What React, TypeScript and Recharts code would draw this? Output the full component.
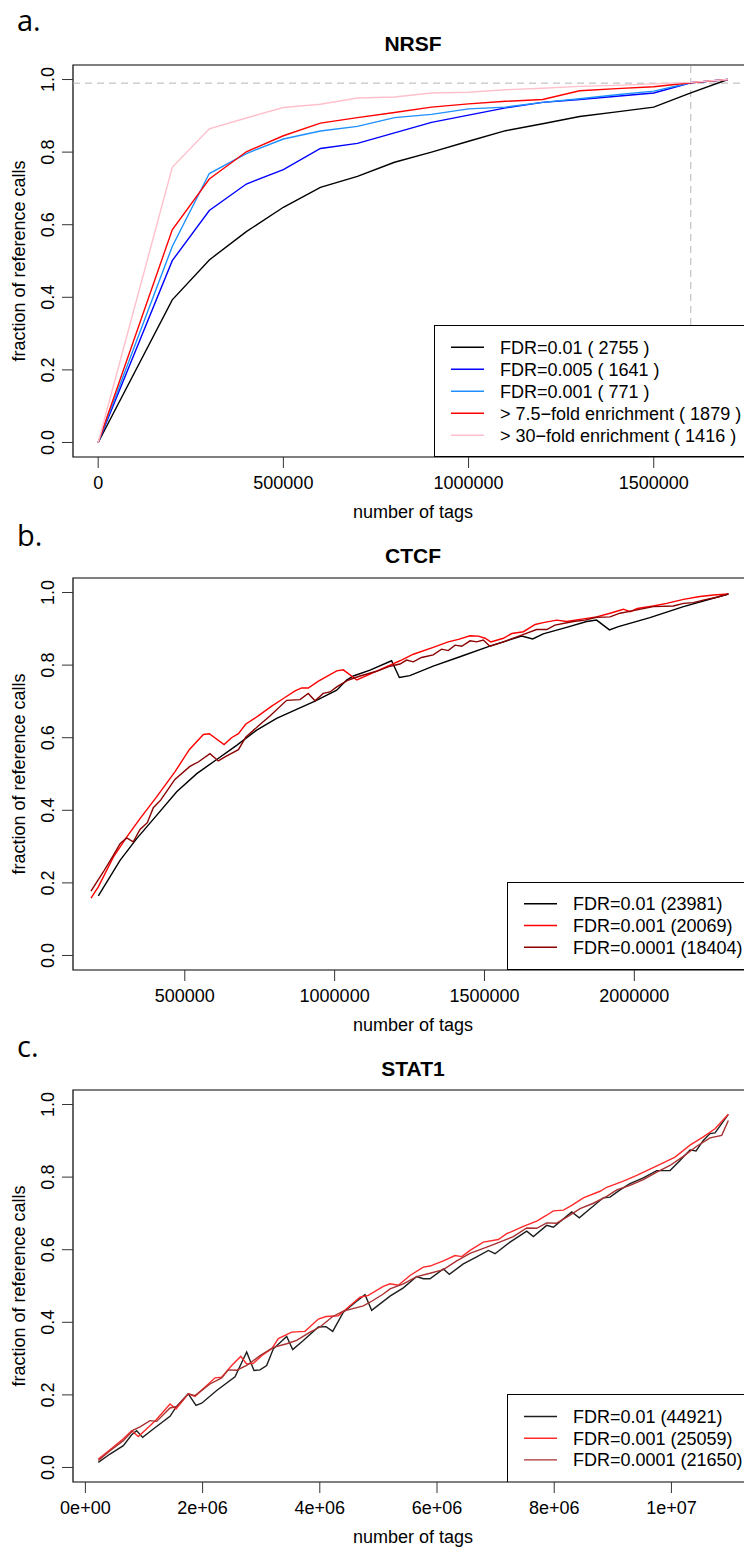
import React from 'react';
import { LineChart, Line, XAxis, YAxis, ReferenceLine, ReferenceArea, Legend } from 'recharts';

const SANS = '"Liberation Sans", Arial, Helvetica, sans-serif';
const LETTER_FONT = '"Open Sans", "Noto Sans", sans-serif';

// ---------- shared axis values ----------
const yTicks = [0, 0.2, 0.4, 0.6, 0.8, 1.0];
const yDomain: [number, number] = [-0.04, 1.04];

// ---------- panel a: NRSF ----------
const nrsfTags = [0, 200000, 300000, 400000, 500000, 600000, 700000, 800000, 900000, 1000000, 1100000, 1200000, 1300000, 1400000, 1500000, 1600000, 1700000];
const nrsfFdr01 = [0, 0.393, 0.503, 0.581, 0.648, 0.703, 0.733, 0.772, 0.800, 0.830, 0.859, 0.878, 0.898, 0.911, 0.924, 0.963, 1.0];
const nrsfFdr005 = [0, 0.501, 0.639, 0.712, 0.752, 0.810, 0.824, 0.853, 0.882, 0.902, 0.922, 0.937, 0.945, 0.954, 0.963, 0.991, 1.0];
const nrsfFdr001 = [0, 0.540, 0.741, 0.796, 0.836, 0.858, 0.871, 0.895, 0.904, 0.919, 0.924, 0.937, 0.947, 0.958, 0.968, 0.991, 1.0];
const nrsfFold75 = [0, 0.586, 0.726, 0.801, 0.845, 0.880, 0.895, 0.909, 0.924, 0.933, 0.940, 0.945, 0.969, 0.975, 0.980, 0.991, 1.0];
const nrsfFold30 = [0, 0.758, 0.864, 0.894, 0.923, 0.932, 0.949, 0.952, 0.963, 0.965, 0.972, 0.976, 0.981, 0.984, 0.988, 0.992, 1.0];
const nrsfXTicks = [0, 500000, 1000000, 1500000];
const nrsfXTickLabels = ['0', '500000', '1000000', '1500000'];
const nrsfXDomain: [number, number] = [-68000, 1768000];
const nrsfSaturationTags = 1600000;
const nrsfSaturationFraction = 0.99;

// ---------- panel b: CTCF ----------
const ctcfFdr01Tags = [211500, 284000, 339500, 406000, 473000, 540000, 606500, 673000, 740000, 806500, 873000, 934500, 1007000, 1040000, 1062500, 1118000, 1190000, 1216000, 1251000, 1329000, 1418000, 1513000, 1574000, 1624000, 1661000, 1696000, 1774000, 1841000, 1874000, 1917000, 1947000, 2052000, 2164000, 2314000];
const ctcfFdr01 = [0.164, 0.262, 0.322, 0.386, 0.451, 0.501, 0.540, 0.579, 0.621, 0.653, 0.678, 0.701, 0.731, 0.759, 0.770, 0.786, 0.812, 0.766, 0.771, 0.797, 0.823, 0.851, 0.867, 0.880, 0.872, 0.886, 0.904, 0.920, 0.924, 0.897, 0.906, 0.931, 0.961, 0.996];

const ctcfFdr001Tags = [187000, 211500, 261600, 306000, 350600, 406000, 467000, 515000, 562000, 582000, 631000, 656000, 679000, 703000, 745000, 790000, 829000, 868000, 890000, 912000, 946000, 1007000, 1029000, 1074000, 1118000, 1185000, 1218000, 1262600, 1329000, 1379000, 1413000, 1452000, 1479500, 1502000, 1521000, 1563000, 1591000, 1630000, 1669000, 1696000, 1741000, 1774000, 1819000, 1874000, 1919000, 1963500, 1986000, 2010000, 2063000, 2108000, 2164000, 2219000, 2264000, 2314000];
const ctcfFdr001 = [0.158, 0.189, 0.271, 0.326, 0.377, 0.437, 0.506, 0.567, 0.609, 0.611, 0.581, 0.600, 0.611, 0.637, 0.660, 0.687, 0.708, 0.729, 0.737, 0.737, 0.756, 0.784, 0.787, 0.759, 0.775, 0.800, 0.812, 0.830, 0.849, 0.864, 0.871, 0.881, 0.880, 0.874, 0.864, 0.874, 0.887, 0.892, 0.912, 0.917, 0.924, 0.920, 0.926, 0.933, 0.943, 0.954, 0.947, 0.956, 0.963, 0.970, 0.981, 0.989, 0.993, 0.996];

const ctcfFdr0001Tags = [187000, 228000, 261600, 284000, 306000, 328000, 350600, 375000, 395000, 419500, 467000, 517000, 545000, 584000, 612000, 634000, 679000, 704000, 745000, 784000, 840000, 884500, 912000, 934500, 962000, 984500, 1007000, 1046000, 1085000, 1140000, 1185000, 1218000, 1240000, 1262600, 1290000, 1329000, 1357000, 1379000, 1402000, 1424000, 1452000, 1474000, 1496000, 1518000, 1563000, 1585000, 1635000, 1674000, 1708000, 1735000, 1796500, 1835000, 1874000, 1919000, 1952000, 1997000, 2063000, 2130000, 2164000, 2197000, 2230000, 2275000, 2314000];
const ctcfFdr0001 = [0.177, 0.230, 0.276, 0.308, 0.324, 0.313, 0.347, 0.366, 0.407, 0.428, 0.485, 0.521, 0.533, 0.556, 0.536, 0.547, 0.567, 0.602, 0.632, 0.660, 0.703, 0.705, 0.722, 0.702, 0.722, 0.726, 0.740, 0.759, 0.770, 0.783, 0.797, 0.803, 0.814, 0.809, 0.821, 0.828, 0.844, 0.840, 0.855, 0.852, 0.867, 0.864, 0.869, 0.852, 0.864, 0.871, 0.886, 0.898, 0.898, 0.910, 0.920, 0.924, 0.932, 0.933, 0.943, 0.950, 0.961, 0.963, 0.970, 0.972, 0.979, 0.987, 0.996];
const ctcfXTicks = [500000, 1000000, 1500000, 2000000];
const ctcfXTickLabels = ['500000', '1000000', '1500000', '2000000'];
const ctcfXDomain: [number, number] = [127000, 2396000];

// ---------- panel c: STAT1 (tags in millions) ----------
const stat1Fdr01Tags = [0.221, 0.420, 0.647, 0.790, 0.875, 0.977, 1.159, 1.444, 1.546, 1.756, 1.887, 1.984, 2.240, 2.553, 2.752, 2.877, 2.980, 3.093, 3.207, 3.435, 3.537, 3.719, 3.975, 4.106, 4.220, 4.402, 4.629, 4.771, 4.885, 5.198, 5.425, 5.653, 5.767, 5.881, 6.108, 6.210, 6.449, 6.677, 6.876, 6.990, 7.246, 7.531, 7.644, 7.872, 7.985, 8.299, 8.428, 8.611, 8.838, 8.952, 9.123, 9.293, 9.521, 9.749, 9.976, 10.147, 10.317, 10.420, 10.544, 10.659, 10.744, 10.971];
const stat1Fdr01 = [0.014, 0.037, 0.060, 0.090, 0.101, 0.083, 0.106, 0.141, 0.166, 0.203, 0.171, 0.177, 0.212, 0.250, 0.318, 0.267, 0.269, 0.281, 0.327, 0.361, 0.325, 0.350, 0.387, 0.388, 0.375, 0.428, 0.458, 0.476, 0.433, 0.472, 0.495, 0.526, 0.520, 0.520, 0.547, 0.532, 0.561, 0.580, 0.598, 0.589, 0.621, 0.651, 0.636, 0.667, 0.662, 0.704, 0.688, 0.713, 0.743, 0.745, 0.765, 0.782, 0.798, 0.818, 0.818, 0.846, 0.875, 0.872, 0.901, 0.920, 0.922, 0.973];

const stat1Fdr001Tags = [0.221, 0.420, 0.647, 0.790, 0.903, 1.102, 1.205, 1.444, 1.546, 1.756, 1.870, 2.212, 2.325, 2.496, 2.650, 2.752, 2.866, 3.008, 3.179, 3.292, 3.520, 3.747, 3.975, 4.106, 4.316, 4.430, 4.686, 4.828, 5.084, 5.198, 5.340, 5.539, 5.767, 5.881, 6.108, 6.307, 6.422, 6.563, 6.790, 7.046, 7.189, 7.473, 7.701, 7.872, 7.985, 8.157, 8.299, 8.497, 8.782, 8.896, 9.180, 9.408, 9.579, 9.806, 10.061, 10.317, 10.544, 10.744, 10.971];
const stat1Fdr001 = [0.023, 0.049, 0.079, 0.101, 0.085, 0.115, 0.131, 0.175, 0.161, 0.203, 0.196, 0.247, 0.249, 0.281, 0.306, 0.285, 0.287, 0.308, 0.327, 0.355, 0.373, 0.375, 0.409, 0.416, 0.418, 0.434, 0.469, 0.474, 0.499, 0.506, 0.502, 0.529, 0.552, 0.555, 0.569, 0.584, 0.581, 0.598, 0.621, 0.628, 0.644, 0.664, 0.679, 0.695, 0.707, 0.709, 0.722, 0.743, 0.761, 0.772, 0.789, 0.805, 0.818, 0.835, 0.855, 0.888, 0.911, 0.933, 0.973];

const stat1Fdr0001Tags = [0.221, 0.420, 0.647, 0.818, 0.932, 1.102, 1.216, 1.444, 1.555, 1.756, 1.870, 2.126, 2.325, 2.439, 2.581, 2.752, 2.980, 3.207, 3.435, 3.605, 3.833, 4.003, 4.220, 4.402, 4.743, 4.885, 5.084, 5.198, 5.425, 5.653, 5.881, 6.108, 6.336, 6.563, 6.734, 6.961, 7.132, 7.302, 7.531, 7.701, 7.872, 8.043, 8.214, 8.441, 8.668, 8.896, 9.067, 9.293, 9.521, 9.749, 9.976, 10.203, 10.432, 10.659, 10.858, 10.971];
const stat1Fdr0001 = [0.019, 0.046, 0.074, 0.103, 0.112, 0.129, 0.127, 0.164, 0.168, 0.203, 0.198, 0.230, 0.247, 0.269, 0.268, 0.281, 0.308, 0.331, 0.341, 0.350, 0.373, 0.387, 0.416, 0.431, 0.445, 0.458, 0.478, 0.492, 0.506, 0.526, 0.535, 0.545, 0.569, 0.590, 0.600, 0.614, 0.625, 0.636, 0.660, 0.659, 0.674, 0.673, 0.690, 0.713, 0.728, 0.747, 0.765, 0.777, 0.793, 0.814, 0.832, 0.857, 0.885, 0.908, 0.915, 0.956];
const stat1XTicks = [0, 2, 4, 6, 8, 10];
const stat1XTickLabels = ['0e+00', '2e+06', '4e+06', '6e+06', '8e+06', '1e+07'];
const stat1XDomain: [number, number] = [-0.2116, 11.392];

// ---------- layout ----------
const CHART_W = 780;
const CHART_H = 522;
const MARGIN = { top: 65, right: 27, bottom: 0, left: 0 };
const Y_AXIS_W = 73;
const X_AXIS_H = 65;
const PANEL_TOPS = [0, 512.5, 1025];

type Series = { name: string; color: string; xs: number[]; ys: number[] };
type LegendBox = { left: number; top: number; width: number; height: number; firstRow: number; rowGap: number };

const toPoints = (xs: number[], ys: number[]) => xs.map((x, i) => ({ x, y: ys[i] }));

const makeXTick = (ticks: number[], labels: string[]) => (props: any) => {
  const { x, y, payload } = props;
  const idx = ticks.indexOf(payload.value);
  const label = idx >= 0 ? labels[idx] : String(payload.value);
  return (
    <text x={x} y={y + 21} textAnchor="middle" fontFamily={SANS} fontSize={18} fill="#000">
      {label}
    </text>
  );
};

const YTick = (props: any) => {
  const { x, y, payload } = props;
  const bx = x - 7.5;
  return (
    <text x={bx} y={y} transform={`rotate(-90 ${bx} ${y})`} textAnchor="middle" fontFamily={SANS} fontSize={18} fill="#000">
      {Number(payload.value).toFixed(1)}
    </text>
  );
};

const xTitle = (props: any) => {
  const vb = props && props.viewBox ? props.viewBox : {};
  const x0 = typeof vb.x === 'number' ? vb.x : 73;
  const w = typeof vb.width === 'number' ? vb.width : 680;
  const y0 = typeof vb.y === 'number' ? vb.y : 457;
  return (
    <text x={x0 + w / 2} y={y0 + 60.5} textAnchor="middle" fontFamily={SANS} fontSize={18} fill="#000">
      number of tags
    </text>
  );
};

const yTitle = (props: any) => {
  const vb = props && props.viewBox ? props.viewBox : {};
  const y0 = typeof vb.y === 'number' ? vb.y : 65;
  const h = typeof vb.height === 'number' ? vb.height : 392;
  const cy = y0 + h / 2;
  const bx = 24.5;
  return (
    <text x={bx} y={cy} transform={`rotate(-90 ${bx} ${cy})`} textAnchor="middle" fontFamily={SANS} fontSize={18} fill="#000">
      fraction of reference calls
    </text>
  );
};

const makeLegend = (box: LegendBox, series: Series[]) => (props: any) => {
  const payload: any[] = (props && props.payload) || [];
  const items = series.map((s) => {
    const p = payload.find((q: any) => q && q.value === s.name);
    return { value: p ? p.value : s.name, color: p && p.color ? p.color : s.color };
  });
  return (
    <svg width={box.width} height={box.height} style={{ display: 'block' }}>
      <rect x={0.5} y={0.5} width={box.width - 1} height={box.height - 1} fill="#fff" stroke="#000" strokeWidth={1} />
      {items.map((p, i) => {
        const ry = box.firstRow + i * box.rowGap;
        return (
          <g key={i}>
            <line x1={17} x2={50} y1={ry} y2={ry} stroke={p.color} strokeWidth={1.4} />
            <text x={66} y={ry + 6.5} fontFamily={SANS} fontSize={18} fill="#000">
              {p.value}
            </text>
          </g>
        );
      })}
    </svg>
  );
};

type PanelProps = {
  series: Series[];
  xDomain: [number, number];
  xTicks: number[];
  xTickLabels: string[];
  legend: LegendBox;
  refX?: number;
  refY?: number;
};

function Panel({ series, xDomain, xTicks, xTickLabels, legend, refX, refY }: PanelProps) {
  return (
    <LineChart width={CHART_W} height={CHART_H} margin={MARGIN}>
      <XAxis
        type="number"
        dataKey="x"
        domain={xDomain}
        ticks={xTicks}
        interval={0}
        allowDataOverflow
        height={X_AXIS_H}
        tickSize={11}
        tickMargin={0}
        axisLine={false}
        tickLine={{ stroke: '#333', strokeWidth: 1 }}
        tick={makeXTick(xTicks, xTickLabels)}
        label={xTitle}
      />
      <YAxis
        type="number"
        dataKey="y"
        domain={yDomain}
        ticks={yTicks}
        interval={0}
        allowDataOverflow
        width={Y_AXIS_W}
        tickSize={11}
        tickMargin={0}
        axisLine={false}
        tickLine={{ stroke: '#333', strokeWidth: 1 }}
        tick={YTick}
        label={yTitle}
      />
      {refY !== undefined && (
        <ReferenceLine y={refY} stroke="#b4b4b4" strokeWidth={1} strokeDasharray="7 5" ifOverflow="visible" />
      )}
      {refX !== undefined && (
        <ReferenceLine x={refX} stroke="#b4b4b4" strokeWidth={1} strokeDasharray="7 5" ifOverflow="visible" />
      )}
      {series.map((s) => (
        <Line
          key={s.name}
          data={toPoints(s.xs, s.ys)}
          dataKey="y"
          name={s.name}
          type="linear"
          stroke={s.color}
          strokeWidth={1.4}
          dot={false}
          activeDot={false}
          isAnimationActive={false}
        />
      ))}
      <ReferenceArea
        x1={xDomain[0]}
        x2={xDomain[1]}
        y1={yDomain[0]}
        y2={yDomain[1]}
        fill="none"
        fillOpacity={0}
        stroke="#000"
        strokeWidth={1.2}
        ifOverflow="visible"
      />
      <Legend
        layout="horizontal"
        verticalAlign="middle"
        align="center"
        width={legend.width}
        height={legend.height}
        wrapperStyle={{ left: legend.left, top: legend.top, width: legend.width, height: legend.height, margin: 0, padding: 0 }}
        content={makeLegend(legend, series)}
      />
    </LineChart>
  );
}

const nrsfSeries: Series[] = [
  { name: 'FDR=0.01 ( 2755 )', color: '#000000', xs: nrsfTags, ys: nrsfFdr01 },
  { name: 'FDR=0.005 ( 1641 )', color: '#0000ff', xs: nrsfTags, ys: nrsfFdr005 },
  { name: 'FDR=0.001 ( 771 )', color: '#1e90ff', xs: nrsfTags, ys: nrsfFdr001 },
  { name: '> 7.5\u2212fold enrichment ( 1879 )', color: '#ff0000', xs: nrsfTags, ys: nrsfFold75 },
  { name: '> 30\u2212fold enrichment ( 1416 )', color: '#ffc0cb', xs: nrsfTags, ys: nrsfFold30 },
];

const ctcfSeries: Series[] = [
  { name: 'FDR=0.01 (23981)', color: '#000000', xs: ctcfFdr01Tags, ys: ctcfFdr01 },
  { name: 'FDR=0.001 (20069)', color: '#ff0000', xs: ctcfFdr001Tags, ys: ctcfFdr001 },
  { name: 'FDR=0.0001 (18404)', color: '#8b0000', xs: ctcfFdr0001Tags, ys: ctcfFdr0001 },
];

const stat1Series: Series[] = [
  { name: 'FDR=0.01 (44921)', color: '#1e1e1e', xs: stat1Fdr01Tags, ys: stat1Fdr01 },
  { name: 'FDR=0.001 (25059)', color: '#ff2a2a', xs: stat1Fdr001Tags, ys: stat1Fdr001 },
  { name: 'FDR=0.0001 (21650)', color: '#a83030', xs: stat1Fdr0001Tags, ys: stat1Fdr0001 },
];

const panelTitles = ['NRSF', 'CTCF', 'STAT1'];
const panelLetters = ['a.', 'b.', 'c.'];
const letterBaselines = [31, 546, 1057];

export default function App() {
  return (
    <div style={{ position: 'absolute', left: 0, top: 0, width: 744, height: 1547, overflow: 'hidden', background: '#fff' }}>
      <div style={{ position: 'absolute', left: 0, top: PANEL_TOPS[0] }}>
        <Panel
          series={nrsfSeries}
          xDomain={nrsfXDomain}
          xTicks={nrsfXTicks}
          xTickLabels={nrsfXTickLabels}
          legend={{ left: 434, top: 325, width: 319, height: 132, firstRow: 22.3, rowGap: 22 }}
          refX={nrsfSaturationTags}
          refY={nrsfSaturationFraction}
        />
      </div>
      <div style={{ position: 'absolute', left: 0, top: PANEL_TOPS[1] }}>
        <Panel
          series={ctcfSeries}
          xDomain={ctcfXDomain}
          xTicks={ctcfXTicks}
          xTickLabels={ctcfXTickLabels}
          legend={{ left: 507, top: 369, width: 246, height: 88, firstRow: 21.8, rowGap: 21.7 }}
        />
      </div>
      <div style={{ position: 'absolute', left: 0, top: PANEL_TOPS[2] }}>
        <Panel
          series={stat1Series}
          xDomain={stat1XDomain}
          xTicks={stat1XTicks}
          xTickLabels={stat1XTickLabels}
          legend={{ left: 507, top: 368.5, width: 246, height: 88.5, firstRow: 22.5, rowGap: 21.7 }}
        />
      </div>
      <svg width={744} height={1547} style={{ position: 'absolute', left: 0, top: 0, pointerEvents: 'none' }}>
        {panelTitles.map((t, i) => (
          <text key={t} x={413} y={PANEL_TOPS[i] + 50.7} textAnchor="middle" fontFamily={SANS} fontSize={21} fontWeight="bold" fill="#000">
            {t}
          </text>
        ))}
        {panelLetters.map((l, i) => (
          <text key={l} x={17} y={letterBaselines[i]} fontFamily={LETTER_FONT} fontSize={29} fill="#000">
            {l}
          </text>
        ))}
      </svg>
    </div>
  );
}
